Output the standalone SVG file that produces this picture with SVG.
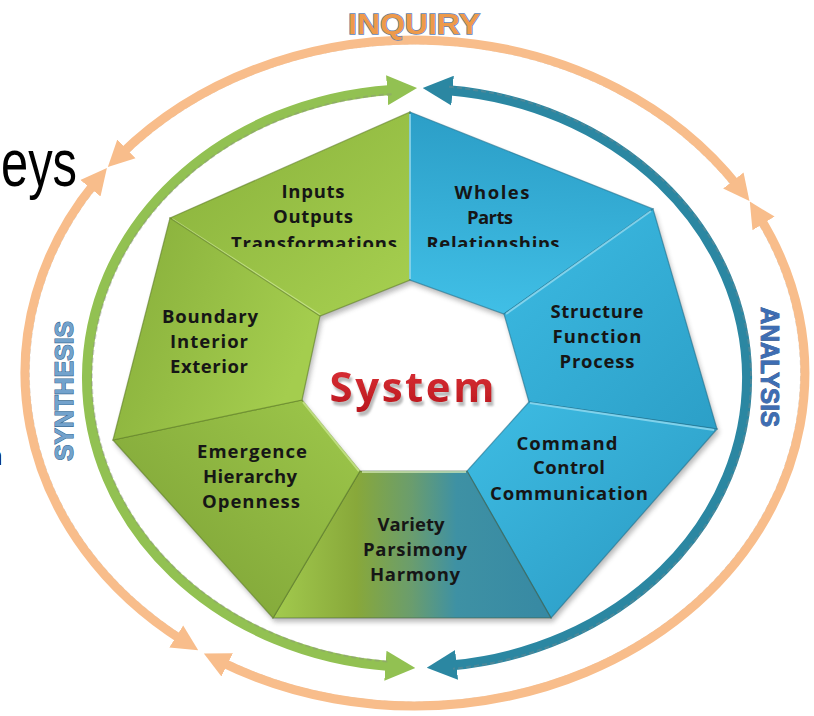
<svg xmlns="http://www.w3.org/2000/svg" width="814" height="716" viewBox="0 0 814 716">
<style>
.seg{font-family:"Open Sans","Liberation Sans",sans-serif;font-weight:700;font-size:18.5px;fill:#161616;text-anchor:middle}
.ring{fill:none}
.orange{stroke:#f8bd8b;stroke-width:9}
.green{stroke:#92c152;stroke-width:10}
.teal{stroke:#2b87a2;stroke-width:10}
.shade{fill:none;stroke:#8a8a8a;stroke-width:2;stroke-dasharray:5 3;opacity:0.35}
.gedge{fill:none;stroke:#5e7d25;stroke-width:1.2;stroke-opacity:0.6}
.bedge{fill:none;stroke:#1f6f8c;stroke-width:1.2;stroke-opacity:0.6}
.glite{stroke:#cbe88f;stroke-width:2;opacity:0.8}
.blite{stroke:#93dcf2;stroke-width:2;opacity:0.8}
.label{font-family:"Liberation Sans",Arial,sans-serif;font-weight:700;text-anchor:middle;paint-order:stroke}
.bg{font-family:"Liberation Sans",Arial,sans-serif;fill:#000}
</style>
<defs>
<marker id="arrOrange" markerUnits="userSpaceOnUse" viewBox="0 0 26 28" refX="8" refY="14" markerWidth="26" markerHeight="28" orient="auto-start-reverse">
<path d="M0,1 L26,14 L0,27 Z" fill="#f8bd8b"/>
</marker>
<marker id="arrGreen" markerUnits="userSpaceOnUse" viewBox="0 0 30 30" refX="4" refY="15" markerWidth="30" markerHeight="30" orient="auto-start-reverse">
<path d="M0,0 L30,15 L0,30 Z" fill="#92c152"/>
</marker>
<marker id="arrTeal" markerUnits="userSpaceOnUse" viewBox="0 0 30 30" refX="4" refY="15" markerWidth="30" markerHeight="30" orient="auto-start-reverse">
<path d="M0,0 L30,15 L0,30 Z" fill="#2b87a2"/>
</marker>
<linearGradient id="gInputs" x1="0" y1="0" x2="1" y2="1"><stop offset="0" stop-color="#88b03b"/><stop offset="1" stop-color="#a7d050"/></linearGradient>
<linearGradient id="gBoundary" x1="0" y1="0" x2="1" y2="0.4"><stop offset="0" stop-color="#86ad3a"/><stop offset="1" stop-color="#a4cd4e"/></linearGradient>
<linearGradient id="gEmerg" x1="0" y1="1" x2="1" y2="0"><stop offset="0" stop-color="#7a9e34"/><stop offset="1" stop-color="#9ec84b"/></linearGradient>
<linearGradient id="gVariety" x1="0" y1="0" x2="1" y2="0"><stop offset="0" stop-color="#a3cb4e"/><stop offset="0.3" stop-color="#88a83a"/><stop offset="0.5" stop-color="#6a9d6e"/><stop offset="0.66" stop-color="#3e91a4"/><stop offset="1" stop-color="#3789a3"/></linearGradient>
<linearGradient id="gWholes" x1="0.4" y1="0" x2="0.3" y2="1"><stop offset="0" stop-color="#2b9dc6"/><stop offset="1" stop-color="#40bfe6"/></linearGradient>
<linearGradient id="gStruct" x1="0" y1="0" x2="1" y2="1"><stop offset="0" stop-color="#3cbbe3"/><stop offset="1" stop-color="#2c9fc7"/></linearGradient>
<linearGradient id="gCommand" x1="0" y1="0" x2="1" y2="1"><stop offset="0" stop-color="#3ebde4"/><stop offset="1" stop-color="#2997c0"/></linearGradient>
<linearGradient id="gSystem" x1="0" y1="0" x2="0" y2="1"><stop offset="0" stop-color="#e0353a"/><stop offset="1" stop-color="#b8161d"/></linearGradient>
<filter id="blur2" x="-10%" y="-10%" width="120%" height="120%"><feGaussianBlur stdDeviation="2.5"/></filter>
<filter id="sysShadow" x="-10%" y="-20%" width="125%" height="150%"><feDropShadow dx="2" dy="4" stdDeviation="1.3" flood-color="#8c8c8c" flood-opacity="0.6"/></filter>
<clipPath id="clipTop"><rect x="0" y="0" width="814" height="247"/></clipPath>
</defs>

<rect width="814" height="716" fill="#fff"/>

<!-- background slide text fragments -->
<text class="bg" x="1" y="186" font-size="66" textLength="76" lengthAdjust="spacingAndGlyphs">eys</text>
<text class="bg" x="-12" y="465" font-size="26">n</text>

<!-- connectors: rings and arrows -->
<g id="connectors">
<path class="shade" transform="translate(415,373) scale(0.99) translate(-415,-373)" d="M120.7,154.5 A390,333 0 0 1 738.3,186.8"/>
<path class="shade" transform="translate(415,373) scale(0.99) translate(-415,-373)" d="M183.0,640.7 A390,333 0 0 1 95.5,182.0"/>
<path class="shade" transform="translate(415,373) scale(0.99) translate(-415,-373)" d="M759.3,216.7 A390,333 0 0 1 220.0,661.4"/>
<path id="orangeTop" class="ring orange" d="M120.7,154.5 A390,333 0 0 1 738.3,186.8" marker-start="url(#arrOrange)" marker-end="url(#arrOrange)"/>
<path id="orangeLeft" class="ring orange" d="M183.0,640.7 A390,333 0 0 1 95.5,182.0" marker-start="url(#arrOrange)" marker-end="url(#arrOrange)"/>
<path id="orangeRight" class="ring orange" d="M759.3,216.7 A390,333 0 0 1 220.0,661.4" marker-start="url(#arrOrange)" marker-end="url(#arrOrange)"/>
<path id="greenArc" class="ring green" d="M391.1,89.9 A330,289 0 0 0 389.4,666.0" marker-start="url(#arrGreen)" marker-end="url(#arrGreen)"/>
<path id="tealArc" class="ring teal" d="M448.6,90.3 A330,289 0 0 1 452.6,665.3" marker-start="url(#arrTeal)" marker-end="url(#arrTeal)"/>
<path class="shade" transform="translate(417,378) scale(0.985) translate(-417,-378)" d="M391.1,89.9 A330,289 0 0 0 389.4,666.0"/>
<path class="shade" transform="translate(417,378) scale(1.012) translate(-417,-378)" d="M448.6,90.3 A330,289 0 0 1 452.6,665.3"/>
</g>

<!-- ring labels -->
<g id="label-inquiry">
<text class="label" x="414" y="34" font-size="30" textLength="132" lengthAdjust="spacingAndGlyphs" fill="#ee9a4a" stroke="#5d7fb5" stroke-width="1.4">INQUIRY</text>
</g>
<g id="label-synthesis" transform="translate(64,391) rotate(-90)">
<text class="label" x="0" y="9" font-size="25" textLength="140" lengthAdjust="spacingAndGlyphs" fill="#73a2cc" stroke="#3b6a93" stroke-width="1.2">SYNTHESIS</text>
</g>
<g id="label-analysis" transform="translate(770,367) rotate(90)">
<text class="label" x="0" y="9" font-size="25" textLength="120" lengthAdjust="spacingAndGlyphs" fill="#3e6db3" stroke="#2b4f88" stroke-width="0.8">ANALYSIS</text>
</g>

<!-- heptagon ring shadow (hole in the middle stays white) -->
<path d="M410,112 L653,209 L717,429 L551,618 L273,618 L113,440 L170,218 Z M410,280 L320,316 L302,400 L360,471 L467,471 L529,402 L504,314 Z" fill-rule="evenodd" transform="translate(2,4)" fill="#3a3a3a" opacity="0.35" filter="url(#blur2)"/>

<g id="node-inputs">
<polygon points="170,218 410,112 410,280 320,316" fill="url(#gInputs)"/>
<polygon class="gedge" points="170,218 410,112 410,280 320,316"/>
<line class="glite" x1="172" y1="219" x2="320" y2="315"/>
<text class="seg" x="313" y="198" textLength="63">Inputs</text>
<text class="seg" x="313" y="223" textLength="80">Outputs</text>
<text class="seg" x="314" y="250" textLength="166" clip-path="url(#clipTop)">Transformations</text>
</g>

<g id="node-wholes">
<polygon points="410,112 653,209 504,314 410,280" fill="url(#gWholes)"/>
<polygon class="bedge" points="410,112 653,209 504,314 410,280"/>
<line class="blite" x1="410" y1="114" x2="410" y2="279"/>
<text class="seg" x="492" y="199" textLength="75">Wholes</text>
<text class="seg" x="490" y="224" textLength="46">Parts</text>
<text class="seg" x="493" y="250" textLength="133" clip-path="url(#clipTop)">Relationships</text>
</g>

<g id="node-structure">
<polygon points="653,209 717,429 529,402 504,314" fill="url(#gStruct)"/>
<polygon class="bedge" points="653,209 717,429 529,402 504,314"/>
<line class="blite" x1="651" y1="211" x2="506" y2="314"/>
<text class="seg" x="597" y="318" textLength="93">Structure</text>
<text class="seg" x="597" y="343" textLength="89">Function</text>
<text class="seg" x="597" y="368" textLength="75">Process</text>
</g>

<g id="node-command">
<polygon points="717,429 551,618 467,471 529,402" fill="url(#gCommand)"/>
<polygon class="bedge" points="717,429 551,618 467,471 529,402"/>
<line class="blite" x1="714" y1="430" x2="530" y2="403"/>
<text class="seg" x="567" y="450" textLength="101">Command</text>
<text class="seg" x="569" y="474" textLength="72">Control</text>
<text class="seg" x="569" y="500" textLength="158">Communication</text>
</g>

<g id="node-variety">
<polygon points="551,618 273,618 360,471 467,471" fill="url(#gVariety)"/>
<polygon points="551,618 273,618 360,471 467,471" fill="none" stroke="#3f5a3a" stroke-width="1.2" stroke-opacity="0.55"/>
<line x1="362" y1="472" x2="466" y2="472" stroke="#d6ecb8" stroke-width="2" opacity="0.7"/>
<text class="seg" x="411" y="531" textLength="67">Variety</text>
<text class="seg" x="415" y="556" textLength="104">Parsimony</text>
<text class="seg" x="415" y="581" textLength="90">Harmony</text>
</g>

<g id="node-emergence">
<polygon points="273,618 113,440 302,400 360,471" fill="url(#gEmerg)"/>
<polygon class="gedge" points="273,618 113,440 302,400 360,471"/>
<line class="glite" x1="303" y1="402" x2="359" y2="471"/>
<text class="seg" x="252" y="458" textLength="110">Emergence</text>
<text class="seg" x="250" y="483" textLength="94">Hierarchy</text>
<text class="seg" x="251" y="508" textLength="98">Openness</text>
</g>

<g id="node-boundary">
<polygon points="113,440 170,218 320,316 302,400" fill="url(#gBoundary)"/>
<polygon class="gedge" points="113,440 170,218 320,316 302,400"/>
<text class="seg" x="210" y="323" textLength="96">Boundary</text>
<text class="seg" x="209" y="348" textLength="78">Interior</text>
<text class="seg" x="209" y="373" textLength="78">Exterior</text>
</g>

<g id="node-system">
<text x="412" y="402" font-family="'Open Sans','Liberation Sans',sans-serif" font-weight="700" font-size="42" text-anchor="middle" textLength="165" fill="url(#gSystem)" filter="url(#sysShadow)">System</text>
</g>
</svg>
